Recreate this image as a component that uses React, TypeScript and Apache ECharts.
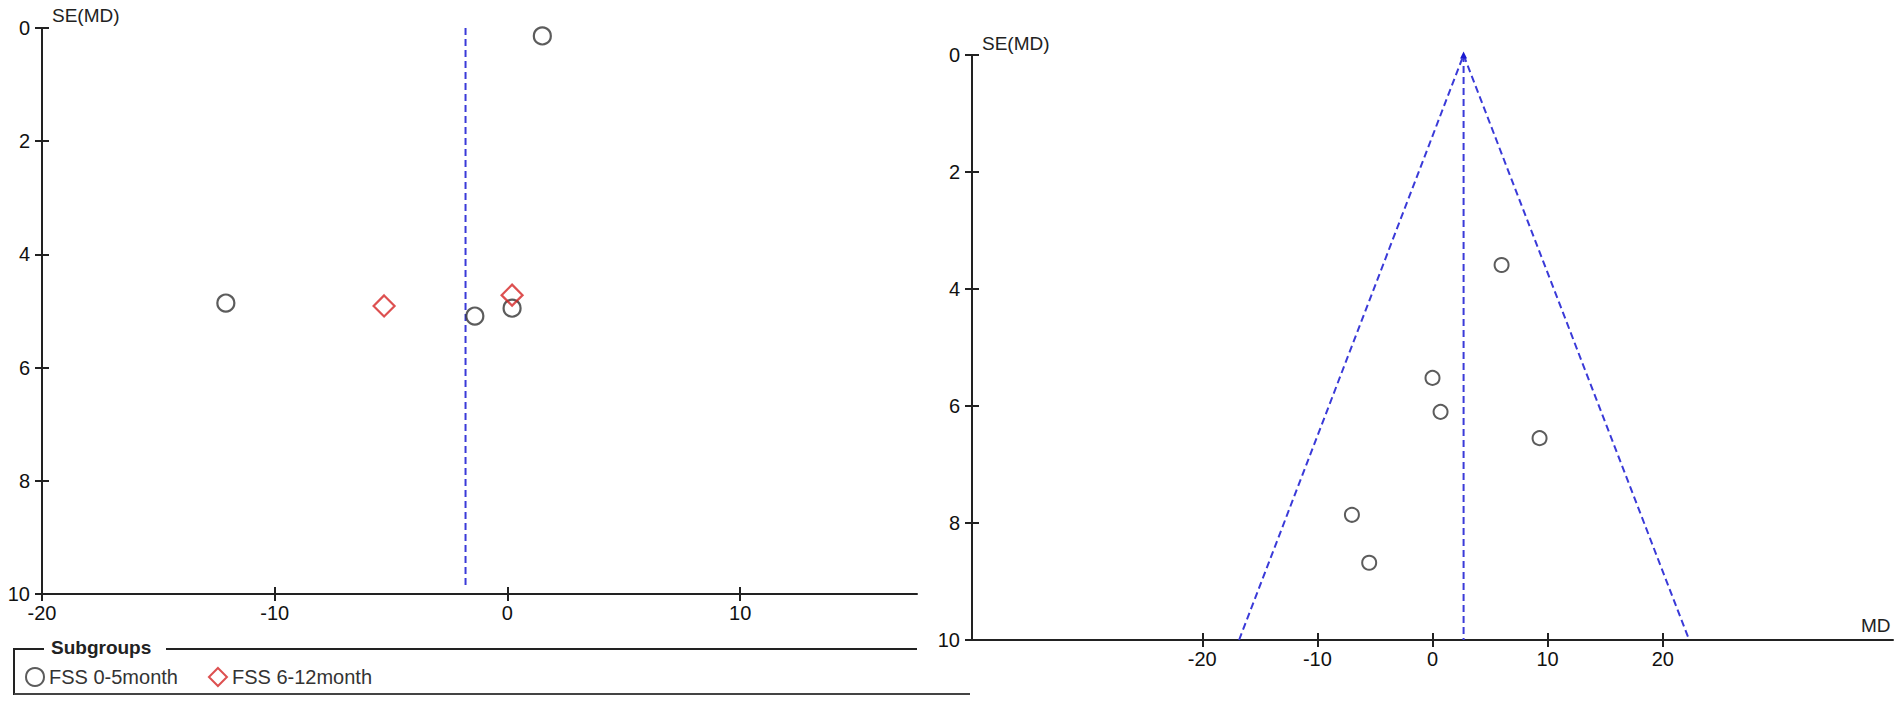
import React, { useEffect, useRef } from "react";
import * as echarts from "echarts";

// ---- data ----
const seTicks = [0, 2, 4, 6, 8, 10];
const leftXTicks = [-20, -10, 0, 10];
const rightXTicks = [-20, -10, 0, 10, 20];

// left plot: subgroup studies [MD, SE(MD)]
const fss05 = [
  [-12.1, 4.86],
  [-1.4, 5.09],
  [0.2, 4.95],
  [1.5, 0.14],
];
const fss612 = [
  [-5.3, 4.91],
  [0.2, 4.72],
];
const leftPooled = [
  [-1.8, 0],
  [-1.8, 9.9],
];

// right plot
const rightStudies = [
  [6.0, 3.59],
  [0.0, 5.52],
  [0.7, 6.1],
  [9.3, 6.55],
  [-7.0, 7.86],
  [-5.5, 8.68],
];
const rightFunnel = [
  [-16.8, 10],
  [2.7, 0],
  [22.3, 10],
];
const rightPooled = [
  [2.7, 0],
  [2.7, 10],
];

const FONT = "'Liberation Sans', Arial, sans-serif";
const AX = "#222";
const BLUE = "#3a3ad8";

function xAxes(grid: number, min: number, max: number, ticks: number[]) {
  const base = {
    type: "value",
    gridIndex: grid,
    min,
    max,
    position: "bottom",
    splitLine: { show: false },
  };
  return [
    {
      ...base,
      axisLine: { show: true, onZero: false, lineStyle: { color: AX, width: 2 } },
      axisTick: { show: true, length: 7, customValues: ticks, lineStyle: { color: AX, width: 2 } },
      axisLabel: {
        show: true,
        customValues: ticks,
        margin: 9,
        color: "#111",
        fontSize: 20,
        fontFamily: FONT,
      },
    },
    {
      ...base,
      axisLine: { show: false, onZero: false },
      axisTick: { show: true, inside: true, length: 7, customValues: ticks, lineStyle: { color: AX, width: 2 } },
      axisLabel: { show: false },
    },
  ];
}

function yAxes(grid: number) {
  const base = {
    type: "value",
    gridIndex: grid,
    min: 0,
    max: 10,
    interval: 2,
    inverse: true,
    position: "left",
    splitLine: { show: false },
  };
  return [
    {
      ...base,
      axisLine: { show: true, onZero: false, lineStyle: { color: AX, width: 2 } },
      axisTick: { show: true, length: 7, customValues: seTicks, lineStyle: { color: AX, width: 2 } },
      axisLabel: {
        show: true,
        customValues: seTicks,
        margin: 12,
        color: "#111",
        fontSize: 20,
        fontFamily: FONT,
      },
    },
    {
      ...base,
      axisLine: { show: false, onZero: false },
      axisTick: { show: true, inside: true, length: 7, customValues: seTicks, lineStyle: { color: AX, width: 2 } },
      axisLabel: { show: false },
    },
  ];
}

export default function App() {
  const ref = useRef<HTMLDivElement>(null);

  useEffect(() => {
    if (!ref.current) return;
    const chart = echarts.init(ref.current, null, { renderer: "svg" });
    const option: any = {
      animation: false,
      backgroundColor: "#fff",
      textStyle: { fontFamily: FONT },
      grid: [
        { left: 42, top: 28, width: 875, height: 566 },
        { left: 972, top: 55, width: 921, height: 585 },
      ],
      xAxis: [...xAxes(0, -20, 17.6, leftXTicks), ...xAxes(1, -40, 40, rightXTicks)],
      yAxis: [...yAxes(0), ...yAxes(1)],
      legend: {
        data: ["FSS 0-5month", "FSS 6-12month"],
        left: 20,
        top: 662,
        itemWidth: 18,
        itemHeight: 18,
        itemGap: 30,
        textStyle: { fontSize: 20, color: "#333", fontFamily: FONT },
      },
      series: [
        {
          name: "pooled-left",
          type: "line",
          xAxisIndex: 0,
          yAxisIndex: 0,
          data: leftPooled,
          symbol: "none",
          lineStyle: { color: BLUE, width: 2, type: [7, 4] },
          z: 1,
        },
        {
          name: "FSS 0-5month",
          type: "scatter",
          xAxisIndex: 0,
          yAxisIndex: 0,
          data: fss05,
          symbol: "circle",
          symbolSize: 17,
          itemStyle: { color: "rgba(255,255,255,0)", borderColor: "#333", borderWidth: 2.2 },
          z: 3,
        },
        {
          name: "FSS 6-12month",
          type: "scatter",
          xAxisIndex: 0,
          yAxisIndex: 0,
          data: fss612,
          symbol: "diamond",
          symbolSize: 21,
          itemStyle: { color: "rgba(255,255,255,0)", borderColor: "#d42424", borderWidth: 2.2 },
          z: 4,
        },
        {
          name: "funnel",
          type: "line",
          xAxisIndex: 2,
          yAxisIndex: 2,
          data: rightFunnel.map((p, i) =>
            i === 1 ? { value: p, symbol: "triangle", symbolSize: 7 } : { value: p, symbol: "none" }
          ),
          showSymbol: true,
          itemStyle: { color: "#1a1ad0" },
          lineStyle: { color: BLUE, width: 2, type: [7, 4] },
          z: 1,
        },
        {
          name: "pooled-right",
          type: "line",
          xAxisIndex: 2,
          yAxisIndex: 2,
          data: rightPooled,
          symbol: "none",
          lineStyle: { color: BLUE, width: 2, type: [7, 4] },
          z: 1,
        },
        {
          name: "studies",
          type: "scatter",
          xAxisIndex: 2,
          yAxisIndex: 2,
          data: rightStudies,
          symbol: "circle",
          symbolSize: 14,
          itemStyle: { color: "rgba(255,255,255,0)", borderColor: "#333", borderWidth: 2 },
          z: 3,
        },
      ],
      graphic: [
        { type: "text", left: 52, top: 6, style: { text: "SE(MD)", fontSize: 19, fill: "#222", fontFamily: FONT } },
        { type: "text", left: 982, top: 34, style: { text: "SE(MD)", fontSize: 19, fill: "#222", fontFamily: FONT } },
        { type: "text", left: 1861, top: 616, style: { text: "MD", fontSize: 19, fill: "#222", fontFamily: FONT } },
        // legend frame
        { type: "line", shape: { x1: 14, y1: 649, x2: 44, y2: 649 }, style: { stroke: AX, lineWidth: 2 } },
        { type: "line", shape: { x1: 166, y1: 649, x2: 917, y2: 649 }, style: { stroke: AX, lineWidth: 2 } },
        { type: "line", shape: { x1: 14, y1: 648, x2: 14, y2: 695 }, style: { stroke: AX, lineWidth: 2 } },
        { type: "line", shape: { x1: 14, y1: 694, x2: 970, y2: 694 }, style: { stroke: "#444", lineWidth: 2 } },
        {
          type: "text",
          left: 51,
          top: 638,
          style: { text: "Subgroups", fontSize: 19, fontWeight: "bold", fill: "#222", fontFamily: FONT },
        },
      ],
    };
    chart.setOption(option);
    return () => chart.dispose();
  }, []);

  return (
    <div
      ref={ref}
      style={{ position: "absolute", left: 0, top: 0, width: 1902, height: 705, background: "#fff" }}
    />
  );
}
